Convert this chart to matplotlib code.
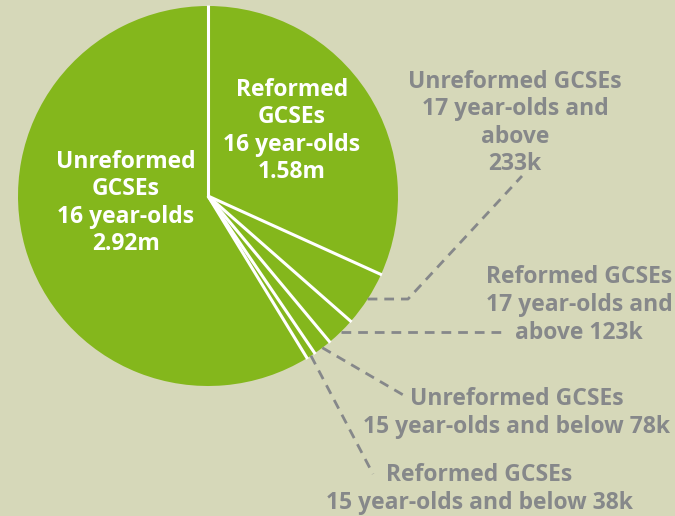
import numpy as np
import matplotlib.pyplot as plt
from matplotlib.patches import Wedge

# segments, clockwise from 12 o'clock (thousands)
labels = ["Reformed\nGCSEs\n16 year-olds\n1.58m",
          "Unreformed GCSEs\n17 year-olds and\nabove\n233k",
          "Reformed GCSEs\n17 year-olds and\nabove 123k",
          "Unreformed GCSEs\n15 year-olds and below 78k",
          "Reformed GCSEs\n15 year-olds and below 38k",
          "Unreformed\nGCSEs\n16 year-olds\n2.92m"]
values = [1580, 233, 123, 78, 38, 2920]

bg = "#d6d8b9"
green = "#84b71c"
grey = "#86888a"

W, H = 675, 516
fig = plt.figure(figsize=(W / 100, H / 100), dpi=100, facecolor=bg)
ax = fig.add_axes([0, 0, 1, 1])
ax.set_xlim(0, W)
ax.set_ylim(0, H)
ax.set_aspect("equal")
ax.axis("off")

cx, cy, r = 208, H - 196, 190
fracs = np.array(values) / sum(values)
bounds = 90 - 360 * np.concatenate([[0], np.cumsum(fracs)])  # math angles

for i in range(len(values)):
    ax.add_patch(Wedge((cx, cy), r, bounds[i + 1], bounds[i], facecolor=green, edgecolor="none"))
for a in bounds[:-1]:
    t = np.radians(a)
    ax.plot([cx, cx + (r + 1) * np.cos(t)], [cy, cy + (r + 1) * np.sin(t)],
            color="white", lw=2.2, solid_capstyle="butt")

font = dict(family="Open Sans", fontweight="bold", fontsize=16.5, linespacing=1.2)

# inside labels
ax.text(292, H - 131, labels[0], color="white", ha="center", va="center", **font)
ax.text(126, H - 203, labels[5], color="white", ha="center", va="center", **font)

# outside labels: text centre and leader-line route
text_pos = {1: (515, H - 123), 2: (579, H - 305), 3: (517, H - 413), 4: (479, H - 489)}
bends = {1: [(408, None), (522, H - 176)],
         2: [(505, None)],
         3: [(405, H - 396)],
         4: [(373, H - 474)]}

for i, (tx, ty) in text_pos.items():
    mid = np.radians((bounds[i] + bounds[i + 1]) / 2)
    x0, y0 = cx + r * np.cos(mid), cy + r * np.sin(mid)
    xs, ys = [x0], [y0]
    for bx, by in bends[i]:
        xs.append(bx)
        ys.append(y0 if by is None else by)
    ax.plot(xs, ys, color=grey, lw=2, dashes=(3.5, 2.5))
    ax.text(tx, ty, labels[i], color=grey, ha="center", va="center", **font)

fig.savefig("out.png", dpi=100, facecolor=bg)
